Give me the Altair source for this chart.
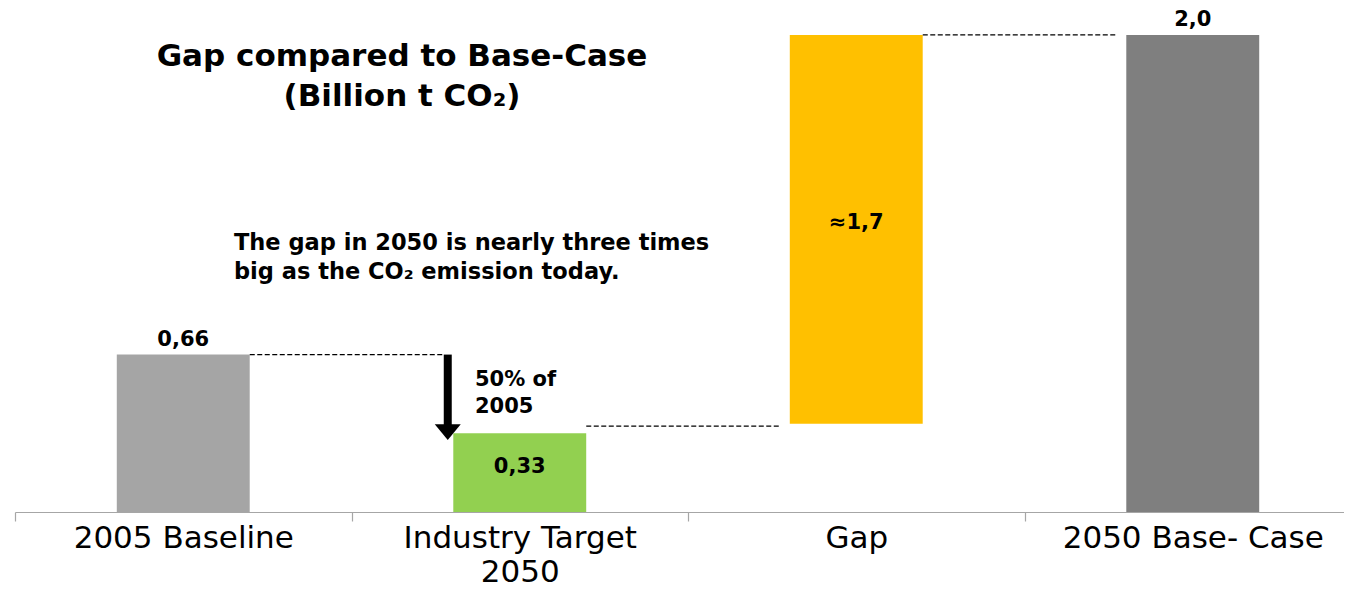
import altair as alt
import pandas as pd

# ---- data ----
categories = ["2005 Baseline", "Industry Target\n2050", "Gap", "2050 Base- Case"]
bar_low = [0.0, 0.0, 0.37, 0.0]
bar_high = [0.66, 0.33, 2.0, 2.0]
bar_colors = ["#A5A5A5", "#92D050", "#FFC000", "#7F7F7F"]
value_labels = ["0,66", "0,33", "\u22481,7", "2,0"]
label_inside = [False, True, True, False]

# dashed connectors: from category -> to category at level
conn_from = ["2005 Baseline", "Industry Target\n2050", "Gap"]
conn_to = ["Industry Target\n2050", "Gap", "2050 Base- Case"]
conn_level = [0.66, 0.36, 2.0]

# arrow (50% reduction)
arrow_cat = ["Industry Target\n2050"]
arrow_start = [0.66]
arrow_end = [0.36]
arrow_head = [0.335]

title_lines = "Gap compared to Base-Case\n(Billion t CO\u2082)"
note_text = "The gap in 2050 is nearly three times\nbig as the CO\u2082 emission today."
pct_text = "50% of\n2005"

FONT = "DejaVu Sans"
YMAX = 2.113

bars = pd.DataFrame({
    "cat": categories, "low": bar_low, "high": bar_high, "color": bar_colors,
    "label": value_labels, "inside": label_inside,
})
bars["mid"] = (bars["low"] + bars["high"]) / 2
conns = pd.DataFrame({"from": conn_from, "to": conn_to, "level": conn_level})
arrow = pd.DataFrame({"cat": arrow_cat, "start": arrow_start, "end": arrow_end, "head": arrow_head})

xscale = alt.Scale(domain=categories, range=[0, 1346], paddingInner=0, paddingOuter=0)
yscale = alt.Scale(domain=[0, YMAX], nice=False, zero=True)

xaxis = alt.Axis(
    title=None, labelAngle=0, labelFont=FONT, labelFontSize=31, labelColor="#000000",
    labelExpr="split(datum.label, '\\n')", labelLineHeight=34, labelBaseline="top",
    labelPadding=2, labelLimit=1000, labelOverlap=False,
    tickBand="extent", tickSize=9, tickColor="#A6A6A6",
    domainColor="#A6A6A6", domainWidth=1.2, tickWidth=1.2, grid=False,
)

x_enc = alt.X("cat:N", scale=xscale, axis=xaxis, sort=categories)

bar_layer = alt.Chart(bars).mark_bar(width=alt.RelativeBandSize(0.395)).encode(
    x=x_enc,
    y=alt.Y("low:Q", scale=yscale, axis=None),
    y2="high:Q",
    color=alt.Color("color:N", scale=None, legend=None),
)

conn_layer = alt.Chart(conns).mark_rule(
    color="#000000", strokeWidth=1.3, strokeDash=[5, 2.5], xOffset=66.5, x2Offset=-75
).encode(
    x=alt.X("from:N", scale=xscale, sort=categories),
    x2="to:N",
    y=alt.Y("level:Q", scale=yscale),
)

arrow_shaft = alt.Chart(arrow).mark_rule(color="#000000", strokeWidth=8, xOffset=-72).encode(
    x=alt.X("cat:N", scale=xscale, sort=categories),
    y=alt.Y("start:Q", scale=yscale),
    y2="end:Q",
)
arrow_tip = alt.Chart(arrow).mark_point(
    shape="M-1,-0.6L1,-0.6L0,0.6Z", filled=True, color="#000000", opacity=1,
    size=676, xOffset=-72, strokeWidth=0,
).encode(
    x=alt.X("cat:N", scale=xscale, sort=categories),
    y=alt.Y("head:Q", scale=yscale),
)

top_labels = alt.Chart(bars).transform_filter("!datum.inside").mark_text(
    font=FONT, fontSize=21, fontWeight="bold", color="#000000", baseline="middle", dy=-15
).encode(
    x=alt.X("cat:N", scale=xscale, sort=categories),
    y=alt.Y("high:Q", scale=yscale),
    text="label:N",
)
in_labels = alt.Chart(bars).transform_filter("datum.inside").mark_text(
    font=FONT, fontSize=21, fontWeight="bold", color="#000000", baseline="middle", dy=-6
).encode(
    x=alt.X("cat:N", scale=xscale, sort=categories),
    y=alt.Y("mid:Q", scale=yscale),
    text="label:N",
)

ann = pd.DataFrame({"t": [title_lines]})
title_layer = alt.Chart(ann).mark_text(
    font=FONT, fontSize=31, fontWeight="bold", color="#000000", align="center",
    baseline="middle", lineBreak="\n", lineHeight=40, x=387, y=49,
).encode(text="t:N")

note_df = pd.DataFrame({"t": [note_text]})
note_layer = alt.Chart(note_df).mark_text(
    font=FONT, fontSize=22.5, fontWeight="bold", color="#000000", align="left",
    baseline="middle", lineBreak="\n", lineHeight=29, x=219, y=235,
).encode(text="t:N")

pct_df = pd.DataFrame({"t": [pct_text]})
pct_layer = alt.Chart(pct_df).mark_text(
    font=FONT, fontSize=21, fontWeight="bold", color="#000000", align="left",
    baseline="middle", lineBreak="\n", lineHeight=27, x=460, y=372,
).encode(text="t:N")

chart = alt.layer(
    bar_layer, conn_layer, arrow_shaft, arrow_tip, top_labels, in_labels,
    title_layer, note_layer, pct_layer,
).properties(
    width=1329, height=504,
    autosize=alt.AutoSizeParams(type="none"),
    padding={"left": 7, "top": 0, "right": 0, "bottom": 77},
).configure(background="#FFFFFF").configure_view(strokeWidth=0)

chart.save("out.html", embed_options={"renderer": "svg", "actions": False})
